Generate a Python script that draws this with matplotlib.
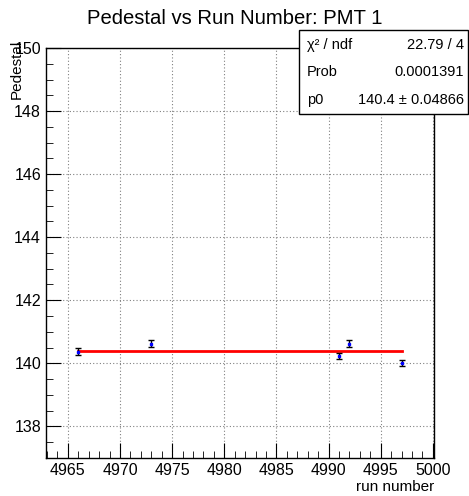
import numpy as np
import matplotlib.pyplot as plt
from matplotlib.ticker import MultipleLocator

plt.rcParams['font.family'] = ['Liberation Sans', 'DejaVu Sans']

run = [4966, 4973, 4991, 4992, 4997]
pedestal = [140.37, 140.62, 140.22, 140.62, 140.00]
ped_err = [0.11, 0.11, 0.10, 0.11, 0.10]
p0_fit = 140.38

fig = plt.figure(figsize=(4.69, 4.96), dpi=100)
ax = fig.add_axes([0.098, 0.077, 0.827, 0.826])

ax.errorbar(run, pedestal, yerr=ped_err, fmt='s', color='blue', markersize=2,
            ecolor='black', elinewidth=1.0, capsize=2, capthick=1.0, zorder=3)
ax.plot([run[0], run[-1]], [p0_fit, p0_fit], color='red', lw=2, zorder=2)

ax.set_xlim(4962.9, 5000.1)
ax.set_ylim(137, 150)
ax.xaxis.set_major_locator(MultipleLocator(5))
ax.xaxis.set_minor_locator(MultipleLocator(1))
ax.yaxis.set_major_locator(MultipleLocator(2))
ax.yaxis.set_minor_locator(MultipleLocator(0.5))
ax.tick_params(which='both', direction='in', top=False, right=False, labelsize=11.5)
ax.tick_params(which='major', length=11)
ax.tick_params(which='minor', length=5)
ax.grid(True, which='major', color='gray', linestyle=(0, (1, 2)), linewidth=0.8)
for s in ax.spines.values():
    s.set_linewidth(1.0)

fig.text(0.5, 0.962, 'Pedestal vs Run Number: PMT 1', ha='center', va='center', fontsize=14.6)
fig.text(0.925, 0.018, 'run number', ha='right', va='center', fontsize=11)
fig.text(0.036, 0.92, 'Pedestal', rotation=90, ha='center', va='top', fontsize=11)

# stats box
box = plt.Rectangle((0.637, 0.77), 0.36, 0.17, transform=fig.transFigure,
                    facecolor='white', edgecolor='black', lw=1.0, zorder=5)
fig.patches.append(box)
rows = [('χ² / ndf', '22.79 / 4'), ('Prob', '0.0001391'),
        ('p0', '140.4 ± 0.04866')]
for i, (lab, val) in enumerate(rows):
    y = 0.909 - i * 0.055
    fig.text(0.655, y, lab, ha='left', va='center', fontsize=10.5, zorder=6)
    fig.text(0.99, y, val, ha='right', va='center', fontsize=10.5, zorder=6)

fig.savefig('out.png', dpi=100)
